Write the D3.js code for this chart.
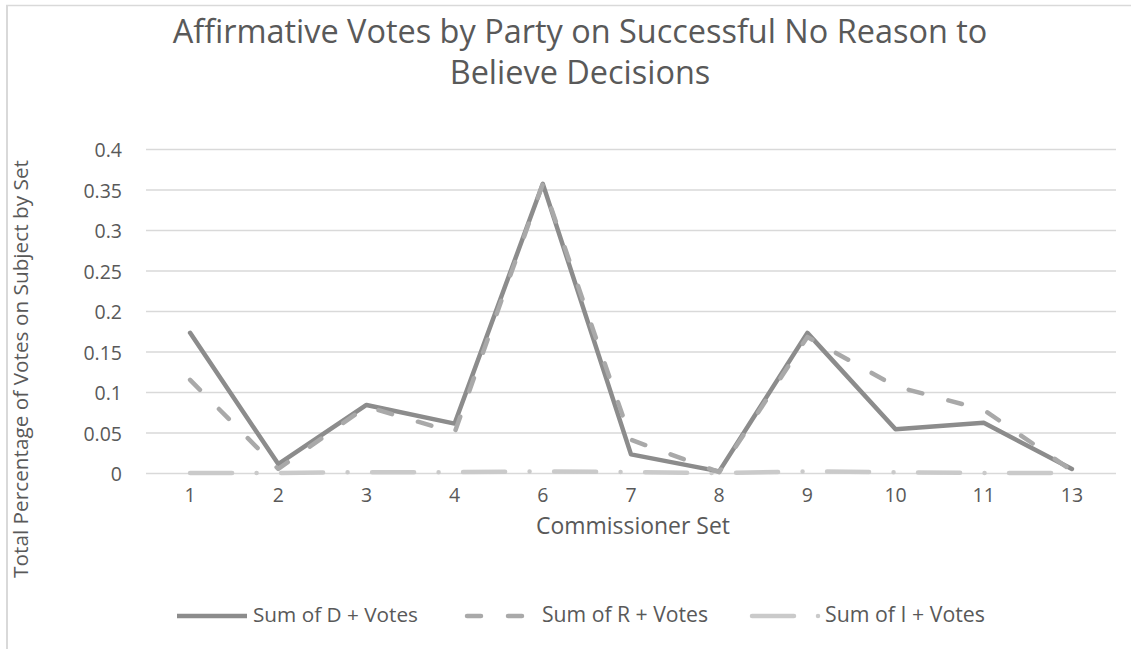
<!DOCTYPE html>
<html>
<head>
<meta charset="utf-8">
<script src="https://cdn.jsdelivr.net/npm/d3@7/dist/d3.min.js"></script>
<style>
  html, body { margin: 0; padding: 0; background: #fff; }
  svg text { font-family: "Open Sans", "Noto Sans", sans-serif; fill: #595959; }
</style>
</head>
<body>
<svg id="chart" width="1137" height="649"></svg>
<script>
// Commissioner sets on the category axis
const categories = ["1", "2", "3", "4", "6", "7", "8", "9", "10", "11", "13"];

// Share of affirmative votes per party for each set
const dVotes = [0.173, 0.011, 0.084, 0.061, 0.357, 0.023, 0.002, 0.173, 0.054, 0.062, 0.005];
const rVotes = [0.115, 0.005, 0.082, 0.050, 0.357, 0.041, 0.001, 0.168, 0.107, 0.078, 0.003];
const iVotes = [0, 0, 0.001, 0.001, 0.002, 0.001, 0, 0.002, 0.001, 0, 0];

const yTicks = [0, 0.05, 0.1, 0.15, 0.2, 0.25, 0.3, 0.35, 0.4];

const seriesNames = ["Sum of D + Votes", "Sum of R + Votes", "Sum of I + Votes"];

const svg = d3.select("#chart");

// chart frame
svg.append("line").attr("x1", 6).attr("x2", 1131).attr("y1", 5.5).attr("y2", 5.5)
  .attr("stroke", "#d9d9d9").attr("stroke-width", 1.5);
svg.append("line").attr("x1", 7).attr("x2", 7).attr("y1", 5).attr("y2", 649)
  .attr("stroke", "#d9d9d9").attr("stroke-width", 2);

const plot = { left: 146, right: 1116, top: 149, bottom: 473 };

const x = d3.scaleBand().domain(categories).range([plot.left, plot.right]);
const y = d3.scaleLinear().domain([0, 0.4]).range([plot.bottom, plot.top]);

// scale a text element's font so it spans the wanted width
function fitWidth(sel, width, size) {
  sel.style("font-size", size + "px");
  const w = sel.node().getComputedTextLength();
  sel.style("font-size", (size * width / w).toFixed(2) + "px");
}

// title
const t1 = svg.append("text").attr("x", 580).attr("y", 43).attr("text-anchor", "middle")
  .text("Affirmative Votes by Party on Successful No Reason to");
fitWidth(t1, 815, 24);
const t2 = svg.append("text").attr("x", 580).attr("y", 84).attr("text-anchor", "middle")
  .text("Believe Decisions");
t2.style("font-size", t1.style("font-size"));

// gridlines
svg.append("g")
  .attr("transform", `translate(${plot.left},0)`)
  .call(d3.axisLeft(y).tickValues(yTicks).tickSize(-(plot.right - plot.left)).tickFormat(""))
  .call(g => g.select(".domain").remove())
  .call(g => g.selectAll(".tick line").attr("stroke", "#d9d9d9").attr("stroke-width", 1.3));

// y tick labels
const yAxis = svg.append("g")
  .attr("transform", `translate(${plot.left},0)`)
  .call(d3.axisLeft(y).tickValues(yTicks).tickSize(0).tickPadding(24).tickFormat(d => String(d)))
  .call(g => g.select(".domain").remove());
yAxis.attr("font-size", null).attr("font-family", null);
yAxis.selectAll("text").style("font-size", "19.5px").attr("dy", "0.4em");

// x tick labels
const xAxis = svg.append("g")
  .attr("transform", `translate(0,${plot.bottom})`)
  .call(d3.axisBottom(x).tickSize(0).tickPadding(15))
  .call(g => g.select(".domain").remove());
xAxis.attr("font-size", null).attr("font-family", null);
xAxis.selectAll("text").style("font-size", "19.5px");

// axis titles
const xt = svg.append("text").attr("x", 633).attr("y", 534).attr("text-anchor", "middle")
  .text("Commissioner Set");
fitWidth(xt, 194, 17);
const yt = svg.append("text")
  .attr("transform", "translate(28,369) rotate(-90)")
  .attr("text-anchor", "middle")
  .text("Total Percentage of Votes on Subject by Set");
fitWidth(yt, 418, 17);

// series lines
const styles = [
  { color: "#8c8c8c", dash: null },
  { color: "#a9a9a9", dash: "14 27" },
  { color: "#cacaca", dash: "42 24.5 0 24.5" }
];
const allSeries = [dVotes, rVotes, iVotes];

const line = d3.line()
  .x((d, i) => x(categories[i]) + x.bandwidth() / 2)
  .y(d => y(d));

// draw back to front so D sits under R, I under both
[2, 0, 1].forEach(k => {
  svg.append("path")
    .datum(allSeries[k])
    .attr("d", line)
    .attr("fill", "none")
    .attr("stroke", styles[k].color)
    .attr("stroke-width", 4.5)
    .attr("stroke-linecap", "round")
    .attr("stroke-linejoin", "round")
    .attr("stroke-dasharray", styles[k].dash);
});

// legend
const legendItems = [
  { x1: 177, x2: 247, tx: 253, tw: 165 },
  { x1: 467, x2: 526, tx: 542, tw: 166 },
  { x1: 752, x2: 822, tx: 825, tw: 160 }
];
const legendY = 616;
legendItems.forEach((it, k) => {
  svg.append("line")
    .attr("x1", it.x1).attr("x2", it.x2).attr("y1", legendY).attr("y2", legendY)
    .attr("stroke", styles[k].color).attr("stroke-width", 4.5)
    .attr("stroke-linecap", k === 0 ? "butt" : "round")
    .attr("stroke-dasharray", k === 0 ? null : (k === 1 ? "14 27" : "42 24 0 24"));
  const lt = svg.append("text").attr("x", it.tx).attr("y", legendY + 6)
    .text(seriesNames[k]);
  fitWidth(lt, it.tw, 16);
});
</script>
</body>
</html>
